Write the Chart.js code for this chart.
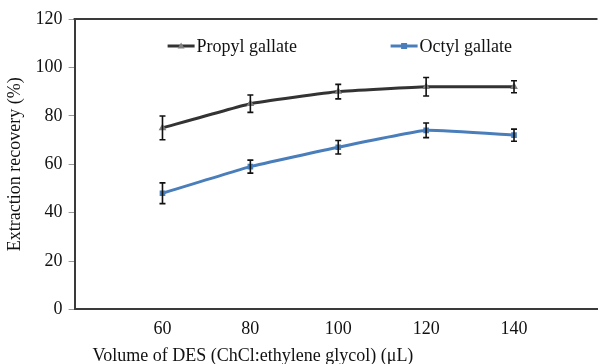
<!DOCTYPE html>
<html>
<head>
<meta charset="utf-8">
<script src="https://cdn.jsdelivr.net/npm/chart.js@4/dist/chart.umd.min.js"></script>
<style>
html,body{margin:0;padding:0;background:#fff;overflow:hidden;}
#wrap{width:602px;height:364px;position:relative;}
</style>
</head>
<body>
<div id="wrap"><canvas id="c" width="602" height="364"></canvas></div>
<script>
const volumes = [60, 80, 100, 120, 140];
const xTicks = [60, 80, 100, 120, 140];
const propylValues = [75, 85, 90, 92, 92];
const propylErrors = [4.9, 3.6, 3, 3.8, 2.5];
const octylValues = [48, 59, 67, 74, 72];
const octylErrors = [4.3, 2.7, 2.8, 3, 2.5];
const seriesNames = ['Propyl gallate', 'Octyl gallate'];
const yTicks = [0, 20, 40, 60, 80, 100, 120];
const xTitle = 'Volume of DES (ChCl:ethylene glycol) (μL)';
const yTitle = 'Extraction recovery (%)';

const FONT = "'Liberation Serif', 'Times New Roman', serif";

function toPoints(xs, ys){ return xs.map((x,i)=>({x:x, y:ys[i]})); }

const errorBarPlugin = {
  id: 'errorBars',
  afterDatasetsDraw(chart){
    const ctx = chart.ctx;
    const xs = chart.scales.x, ys = chart.scales.y;
    const errs = [propylErrors, octylErrors];
    const vals = [propylValues, octylValues];
    ctx.save();
    ctx.strokeStyle = '#111';
    ctx.lineWidth = 1.6;
    errs.forEach((e, d) => {
      volumes.forEach((v, i) => {
        const px = xs.getPixelForValue(v);
        const top = ys.getPixelForValue(vals[d][i] + e[i]);
        const bot = ys.getPixelForValue(vals[d][i] - e[i]);
        ctx.beginPath();
        ctx.moveTo(px, top); ctx.lineTo(px, bot);
        ctx.moveTo(px-3, top); ctx.lineTo(px+3, top);
        ctx.moveTo(px-3, bot); ctx.lineTo(px+3, bot);
        ctx.stroke();
      });
    });
    ctx.restore();
  }
};

const framePlugin = {
  id: 'frame',
  afterDraw(chart){
    const ctx = chart.ctx, a = chart.chartArea;
    ctx.save();
    ctx.strokeStyle = '#3a3a3a';
    ctx.lineWidth = 2;
    ctx.beginPath();
    ctx.moveTo(a.left-1, a.top); ctx.lineTo(a.right, a.top);
    ctx.stroke();
    // x axis title (offset left like the reference)
    ctx.fillStyle = '#111';
    ctx.font = '18px ' + FONT;
    ctx.textAlign = 'left';
    ctx.textBaseline = 'middle';
    ctx.fillText(xTitle, a.left + 18, a.bottom + 47);
    ctx.restore();
  }
};

const legendPlugin = {
  id: 'customLegend',
  afterDraw(chart){
    const ctx = chart.ctx, a = chart.chartArea;
    const items = [
      {x: a.left + 93, color: '#333333', marker: 'triangle', mcolor: '#808080', label: seriesNames[0]},
      {x: a.left + 316, color: '#4a7ebb', marker: 'rect', mcolor: '#4a7ebb', label: seriesNames[1]}
    ];
    const y = a.top + 27;
    ctx.save();
    items.forEach(it => {
      ctx.strokeStyle = it.color;
      ctx.lineWidth = 3;
      ctx.beginPath(); ctx.moveTo(it.x, y); ctx.lineTo(it.x+27, y); ctx.stroke();
      ctx.fillStyle = it.mcolor;
      const cx = it.x + 13.5;
      if (it.marker === 'triangle'){
        ctx.beginPath(); ctx.moveTo(cx, y-3.5); ctx.lineTo(cx+3.5, y+2.5); ctx.lineTo(cx-3.5, y+2.5); ctx.closePath(); ctx.fill();
      } else {
        ctx.fillRect(cx-3, y-3, 6, 6);
      }
      ctx.fillStyle = '#111';
      ctx.font = '18px ' + FONT;
      ctx.textBaseline = 'middle';
      ctx.textAlign = 'left';
      ctx.fillText(it.label, it.x + 29, y + 1);
    });
    ctx.restore();
  }
};

new Chart(document.getElementById('c'), {
  type: 'line',
  data: {
    datasets: [
      {
        label: seriesNames[0],
        data: toPoints(volumes, propylValues),
        borderColor: '#333333',
        borderWidth: 3,
        pointStyle: 'triangle',
        pointRadius: 4.5,
        pointBackgroundColor: '#808080',
        pointBorderColor: '#808080',
        pointBorderWidth: 0,
        tension: 0.1
      },
      {
        label: seriesNames[1],
        data: toPoints(volumes, octylValues),
        borderColor: '#4a7ebb',
        borderWidth: 3,
        pointStyle: 'rect',
        pointRadius: 4,
        pointBackgroundColor: '#4a7ebb',
        pointBorderColor: '#4a7ebb',
        pointBorderWidth: 0,
        tension: 0.1
      }
    ]
  },
  options: {
    responsive: false,
    animation: false,
    layout: {padding: {left: 4, right: 0, top: 19, bottom: 23}},
    plugins: {legend: {display: false}, tooltip: {enabled: false}},
    scales: {
      x: {
        type: 'linear',
        min: 40, max: 159,
        afterBuildTicks(scale){ scale.ticks = xTicks.map(v => ({value: v})); },
        grid: {display: false},
        border: {display: true, color: '#3a3a3a', width: 2},
        ticks: {color: '#111', font: {family: FONT, size: 18}, padding: 1}
      },
      y: {
        min: 0, max: 120,
        afterBuildTicks(scale){ scale.ticks = yTicks.map(v => ({value: v})); },
        grid: {display: true, drawOnChartArea: false, drawTicks: true, tickLength: 6, color: '#999'},
        border: {display: true, color: '#3a3a3a', width: 2},
        ticks: {color: '#111', font: {family: FONT, size: 18}, padding: 6},
        title: {display: true, text: yTitle, color: '#111', font: {family: FONT, size: 18}, padding: {top: 0, bottom: 4}}
      }
    }
  },
  plugins: [errorBarPlugin, framePlugin, legendPlugin]
});
</script>
</body>
</html>
